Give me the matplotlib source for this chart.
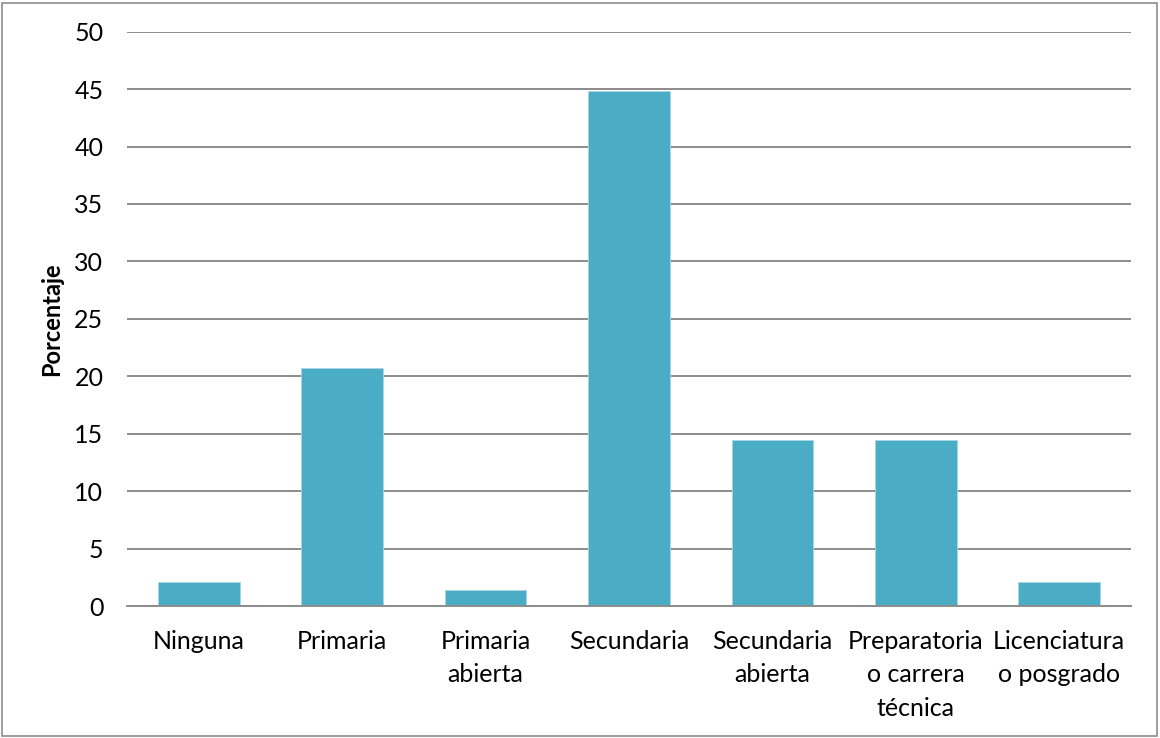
import matplotlib
matplotlib.use("Agg")
import matplotlib.pyplot as plt
from matplotlib.patches import Rectangle

categories = ["Ninguna", "Primaria", "Primaria\nabierta", "Secundaria",
              "Secundaria\nabierta", "Preparatoria\no carrera\ntécnica",
              "Licenciatura\no posgrado"]
values = [2.07, 20.69, 1.38, 44.83, 14.48, 14.48, 2.07]
yticks = [0, 5, 10, 15, 20, 25, 30, 35, 40, 45, 50]

plt.rcParams["font.family"] = ["Lato", "DejaVu Sans"]

W, H = 1160, 738
fig = plt.figure(figsize=(W / 100, H / 100), dpi=100)
ax = fig.add_axes([127 / W, (H - 606) / H, (1131 - 127) / W, (606 - 31.7) / H])

x = list(range(len(categories)))
ax.bar(x, values, width=0.57, color="#4BACC6", edgecolor="#A9D8E4",
       linewidth=0.6, zorder=3)

ax.set_xlim(-0.5, len(categories) - 0.5)
ax.set_ylim(0, 50)
ax.set_yticks(yticks)
ax.set_yticklabels([str(v) for v in yticks], fontsize=18)
ax.set_xticks(x)
ax.set_xticklabels(categories, fontsize=18, linespacing=1.55, va="top")
ax.tick_params(axis="both", length=0)
ax.tick_params(axis="y", pad=17)
ax.tick_params(axis="x", pad=17)

ax.grid(axis="y", color="#8c8c8c", linewidth=1.4, zorder=0)
for side in ["left", "right", "top"]:
    ax.spines[side].set_visible(False)
ax.spines["bottom"].set_color("#8c8c8c")
ax.spines["bottom"].set_linewidth(1.4)
ax.spines["bottom"].set_zorder(4)

ax.set_ylabel("Porcentaje", fontsize=17, fontweight="bold")
ax.yaxis.set_label_coords(-64 / (1131 - 127), 0.5)

# outer chart frame
fig.patches.append(Rectangle((2 / W, 2 / H), (W - 5) / W, (H - 5) / H,
                             transform=fig.transFigure, fill=False,
                             edgecolor="#8c8c8c", linewidth=1.2))

fig.savefig("out.png", dpi=100, facecolor="white")
